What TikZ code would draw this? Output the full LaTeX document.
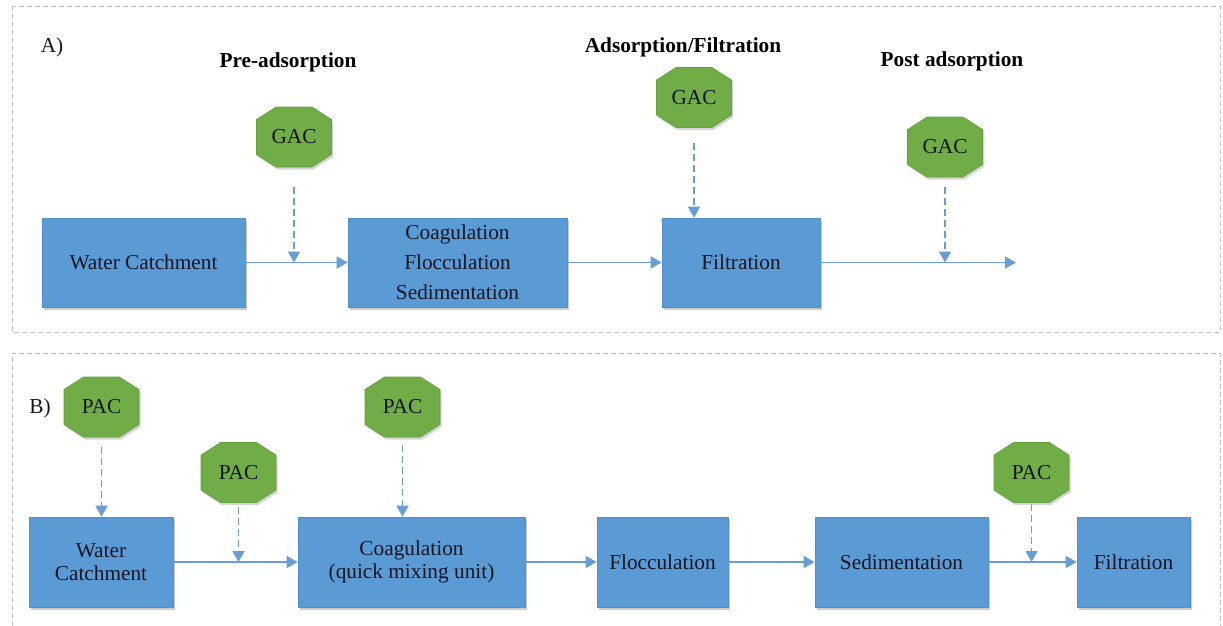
\documentclass[tikz,border=0pt]{standalone}
\usepackage{fontspec}
\setmainfont{Liberation Serif}
\usetikzlibrary{arrows.meta,shadows,calc}

\definecolor{boxblue}{HTML}{5B9BD5}
\definecolor{boxedge}{HTML}{4F8FCC}
\definecolor{octgreen}{HTML}{70AD47}
\definecolor{octedge}{HTML}{64A03E}
\definecolor{flowblue}{HTML}{6A9DD3}
\definecolor{panelgray}{HTML}{BFBFBF}
\definecolor{inkcol}{HTML}{151522}

\tikzset{
  stage/.style={draw=boxedge, line width=0.6pt, fill=boxblue, inner sep=0pt,
    align=center, text=inkcol, font=\fontsize{21.3}{30}\selectfont,
    drop shadow={shadow xshift=1.5pt, shadow yshift=-2.5pt, opacity=0.2, fill=black}},
  tightlines/.style={font=\fontsize{21.3}{23.5}\selectfont},
  octlabel/.style={minimum width=75pt, minimum height=60pt, inner sep=0pt,
    text=inkcol, font=\fontsize{21.3}{24}\selectfont},
  heading/.style={inner sep=0pt, text=black, font=\fontsize{21.3}{24}\selectfont\bfseries},
  paneltag/.style={inner sep=0pt, text=inkcol, font=\fontsize{21.3}{24}\selectfont},
  flow/.style={draw=flowblue, line width=1.8pt, -{Triangle[length=11pt,width=12pt]}},
  dose/.style={flow, dash pattern=on 7pt off 4pt},
  panel/.style={draw=panelgray, line width=0.9pt, dash pattern=on 5pt off 3pt},
}

% octagonal dosing badge: #1 node name, #2 centre, #3 label
\newcommand\dosebadge[3]{%
  \fill[black, opacity=0.16, shift={#2}, xshift=1.5pt, yshift=-2.5pt]
    (-18,-30) -- (18,-30) -- (37.5,-17.5) -- (37.5,17.5) -- (18,30)
    -- (-18,30) -- (-37.5,17.5) -- (-37.5,-17.5) -- cycle;
  \filldraw[fill=octgreen, draw=octedge, line width=0.6pt, shift={#2}]
    (-18,-30) -- (18,-30) -- (37.5,-17.5) -- (37.5,17.5) -- (18,30)
    -- (-18,30) -- (-37.5,17.5) -- (-37.5,-17.5) -- cycle;
  \node[octlabel] (#1) at #2 {#3};
}

\begin{document}
\begin{tikzpicture}[x=1pt, y=-1pt]
\useasboundingbox (0,0) rectangle (1223,625);

% ---------- panel A: granular activated carbon ----------
\draw[panel] (12,6) rectangle (1220,332);
\node[paneltag] (tagA) at (52,47) {A)};

\node[heading] (hpre)  at (288,62) {Pre-adsorption};
\node[heading] (hmid)  at (683,47) {Adsorption/Filtration};
\node[heading] (hpost) at (952,61) {Post adsorption};

\node[stage, minimum width=203pt, minimum height=89pt] (wca)  at (143.5,262.5) {Water Catchment};
\node[stage, minimum width=219pt, minimum height=89pt] (coag) at (457.5,262.5) {Coagulation\\Flocculation\\Sedimentation};
\node[stage, minimum width=158pt, minimum height=89pt] (filt) at (741,262.5) {Filtration};
\coordinate (aout) at (1016,262.5);

\dosebadge{g1}{(294,137)}{GAC}
\dosebadge{g2}{(694,97.5)}{GAC}
\dosebadge{g3}{(945,147)}{GAC}

\draw[flow] (wca) -- (coag);
\draw[flow] (coag) -- (filt);
\draw[flow] (filt) -- (aout);

\draw[dose, shorten <=20pt] (g1) -- (g1 |- wca.center);
\draw[dose, shorten <=15pt] (g2) -- (g2 |- filt.north);
\draw[dose, shorten <=10pt] (g3) -- (g3 |- aout);

% ---------- panel B: powdered activated carbon ----------
\draw[panel] (12,626) -- (12,353) -- (1220,353) -- (1220,626);
\node[paneltag] (tagB) at (40,408) {B)};

\node[stage, tightlines, minimum width=144pt, minimum height=90pt] (wcb)   at (101,562) {Water\\Catchment};
\node[stage, tightlines, minimum width=227pt, minimum height=90pt] (coagb) at (411.5,562) {Coagulation\\(quick mixing unit)};
\node[stage, minimum width=131pt, minimum height=90pt] (floc)  at (662.5,562) {Flocculation};
\node[stage, minimum width=173pt, minimum height=90pt] (sed)   at (901.5,562) {Sedimentation};
\node[stage, minimum width=113pt, minimum height=90pt] (filtb) at (1133.5,562) {Filtration};

\dosebadge{p1}{(101.5,407)}{PAC}
\dosebadge{p2}{(238.5,472.5)}{PAC}
\dosebadge{p3}{(402.5,407)}{PAC}
\dosebadge{p4}{(1031.5,472.5)}{PAC}

\draw[flow] (wcb) -- (coagb);
\draw[flow] (coagb) -- (floc);
\draw[flow] (floc) -- (sed);
\draw[flow] (sed) -- (filtb);

\draw[dose, shorten <=10pt] (p1) -- (p1 |- wcb.north);
\draw[dose, shorten <=4pt]  (p2) -- (p2 |- wcb.center);
\draw[dose, shorten <=8pt]  (p3) -- (p3 |- coagb.north);
\draw[dose, shorten <=1pt]  (p4) -- (p4 |- sed.center);
\end{tikzpicture}
\end{document}
